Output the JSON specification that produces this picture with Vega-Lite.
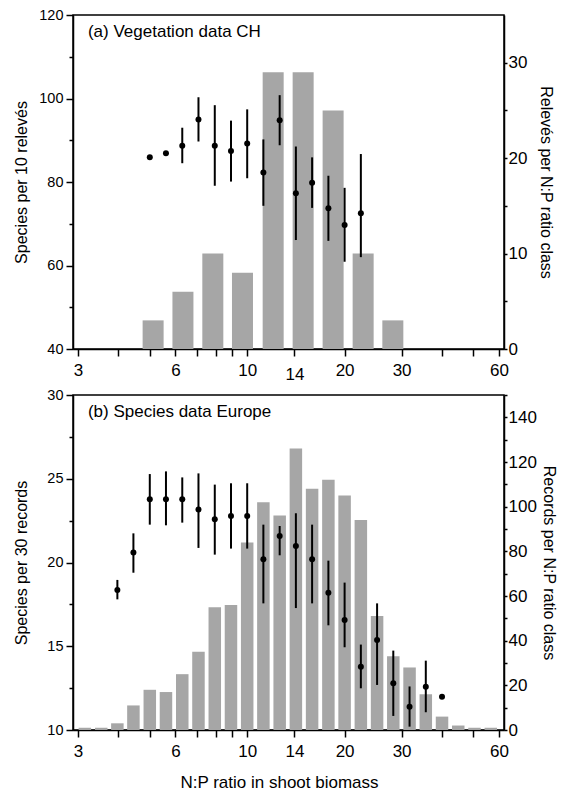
{
  "$schema": "https://vega.github.io/schema/vega-lite/v6.json",
  "background": "white",
  "padding": {"left": 13, "top": 6, "right": 0, "bottom": 0},
  "config": {
    "font": "Liberation Sans",
    "view": {"stroke": "black", "strokeWidth": 1.5},
    "axis": {"domainColor": "black", "domainWidth": 1.5, "tickColor": "black", "tickWidth": 1.5, "labelColor": "black", "titleColor": "black", "grid": false, "labelFont": "Liberation Sans", "titleFont": "Liberation Sans", "titleFontWeight": "normal", "labelOverlap": false, "labelFlush": false}
  },
  "datasets": {
    "barsA": [
      {"np": 5.12, "releves": 3}, {"np": 6.33, "releves": 6}, {"np": 7.83, "releves": 10}, {"np": 9.67, "releves": 8},
      {"np": 12.03, "releves": 29}, {"np": 14.89, "releves": 29}, {"np": 18.43, "releves": 25}, {"np": 22.82, "releves": 10}, {"np": 28.19, "releves": 3}
    ],
    "ptsA": [
      {"np": 5.0, "mean": 85.9, "lo": null, "hi": null},
      {"np": 5.61, "mean": 86.9, "lo": null, "hi": null},
      {"np": 6.3, "mean": 88.7, "lo": 84.5, "hi": 93.0},
      {"np": 7.07, "mean": 95.0, "lo": 89.7, "hi": 100.3},
      {"np": 7.94, "mean": 88.7, "lo": 79.1, "hi": 98.4},
      {"np": 8.91, "mean": 87.4, "lo": 80.1, "hi": 94.7},
      {"np": 10.0, "mean": 89.2, "lo": 80.9, "hi": 97.4},
      {"np": 11.22, "mean": 82.3, "lo": 74.3, "hi": 90.2},
      {"np": 12.6, "mean": 94.8, "lo": 88.8, "hi": 100.8},
      {"np": 14.14, "mean": 77.3, "lo": 66.1, "hi": 88.5},
      {"np": 15.87, "mean": 79.8, "lo": 73.8, "hi": 85.9},
      {"np": 17.82, "mean": 73.7, "lo": 65.9, "hi": 81.5},
      {"np": 20.0, "mean": 69.7, "lo": 60.9, "hi": 78.6},
      {"np": 22.45, "mean": 72.5, "lo": 62.0, "hi": 86.7}
    ],
    "barsB": [
      {"np": 3.15, "records": 1}, {"np": 3.54, "records": 1}, {"np": 3.97, "records": 3}, {"np": 4.45, "records": 11},
      {"np": 5.0, "records": 18}, {"np": 5.61, "records": 17}, {"np": 6.3, "records": 25}, {"np": 7.07, "records": 35},
      {"np": 7.94, "records": 55}, {"np": 8.91, "records": 56}, {"np": 10.0, "records": 84}, {"np": 11.22, "records": 102},
      {"np": 12.6, "records": 96}, {"np": 14.14, "records": 126}, {"np": 15.87, "records": 108}, {"np": 17.82, "records": 112},
      {"np": 20.0, "records": 105}, {"np": 22.45, "records": 94}, {"np": 25.2, "records": 51}, {"np": 28.28, "records": 33},
      {"np": 31.75, "records": 28}, {"np": 35.64, "records": 16}, {"np": 40.0, "records": 6}, {"np": 44.9, "records": 2},
      {"np": 50.4, "records": 1}, {"np": 56.6, "records": 1}
    ],
    "ptsB": [
      {"np": 3.97, "mean": 18.36, "lo": 17.8, "hi": 18.96},
      {"np": 4.45, "mean": 20.59, "lo": 19.39, "hi": 21.74},
      {"np": 5.0, "mean": 23.77, "lo": 22.26, "hi": 25.28},
      {"np": 5.61, "mean": 23.77, "lo": 22.22, "hi": 25.44},
      {"np": 6.3, "mean": 23.77, "lo": 22.38, "hi": 25.08},
      {"np": 7.07, "mean": 23.17, "lo": 20.87, "hi": 25.32},
      {"np": 7.94, "mean": 22.58, "lo": 20.47, "hi": 24.65},
      {"np": 8.91, "mean": 22.78, "lo": 20.83, "hi": 24.73},
      {"np": 10.0, "mean": 22.78, "lo": 20.83, "hi": 24.73},
      {"np": 11.22, "mean": 20.19, "lo": 17.56, "hi": 22.26},
      {"np": 12.6, "mean": 21.58, "lo": 20.43, "hi": 22.18},
      {"np": 14.14, "mean": 20.99, "lo": 17.28, "hi": 22.94},
      {"np": 15.87, "mean": 20.19, "lo": 17.56, "hi": 22.26},
      {"np": 17.82, "mean": 18.2, "lo": 16.25, "hi": 20.11},
      {"np": 20.0, "mean": 16.57, "lo": 14.94, "hi": 18.8},
      {"np": 22.45, "mean": 13.78, "lo": 12.49, "hi": 15.1},
      {"np": 25.2, "mean": 15.37, "lo": 12.69, "hi": 17.56},
      {"np": 28.28, "mean": 12.79, "lo": 10.84, "hi": 14.74},
      {"np": 31.75, "mean": 11.39, "lo": 10.2, "hi": 12.6},
      {"np": 35.64, "mean": 12.58, "lo": 11.06, "hi": 14.14},
      {"np": 40.0, "mean": 11.99, "lo": null, "hi": null}
    ]
  },
  "spacing": 2,
  "vconcat": [
    {
      "width": 431,
      "height": 334,
      "layer": [
        {
          "data": {"name": "barsA"},
          "mark": {"type": "bar", "color": "#a6a6a6", "size": 21},
          "encoding": {
            "x": {"field": "np", "type": "quantitative", "scale": {"type": "log", "domain": [3, 60], "nice": false},
              "axis": {"title": null, "values": [3, 4, 5, 6, 7, 8, 9, 10, 14, 20, 30, 40, 50, 60], "labelExpr": "indexof([3, 6, 10, 14, 20, 30, 60], datum.value) >= 0 ? '' + datum.value : ''", "tickSize": 7, "labelPadding": {"condition": {"test": "datum.value === 14", "value": 10}, "value": 6}, "labelFontSize": 17}},
            "y": {"field": "releves", "type": "quantitative", "scale": {"domain": [0, 35], "nice": false},
              "axis": {"orient": "right", "title": "Relevés per N:P ratio class", "values": [0, 5, 10, 15, 20, 25, 30], "labelExpr": "datum.value % 10 === 0 ? '' + datum.value : ''", "tickSize": 3, "labelPadding": 1, "labelFontSize": 17, "titleFontSize": 16, "titlePadding": 11}}
          }
        },
        {
          "layer": [
            {
              "data": {"name": "ptsA"},
              "mark": {"type": "rule", "color": "black", "strokeWidth": 2},
              "encoding": {
                "x": {"field": "np", "type": "quantitative"},
                "y": {"field": "lo", "type": "quantitative", "scale": {"domain": [40, 120], "nice": false},
                  "axis": {"orient": "left", "title": "Species per 10 relevés", "values": [40, 50, 60, 70, 80, 90, 100, 110, 120], "labelExpr": "datum.value % 20 === 0 ? '' + datum.value : ''", "tickSize": {"condition": {"test": "datum.value % 20 === 0", "value": 7}, "value": 4}, "labelPadding": 3, "labelFontSize": 14.5, "titleFontSize": 16, "titlePadding": 9}},
                "y2": {"field": "hi"}
              }
            },
            {
              "data": {"name": "ptsA"},
              "mark": {"type": "point", "filled": true, "color": "black", "opacity": 1, "size": 36},
              "encoding": {
                "x": {"field": "np", "type": "quantitative"},
                "y": {"field": "mean", "type": "quantitative", "axis": {"title": "Species per 10 relevés"}}
              }
            },
            {
              "data": {"values": [{"label": "(a) Vegetation data CH"}]},
              "mark": {"type": "text", "align": "left", "baseline": "middle", "fontSize": 17, "color": "black"},
              "encoding": {
                "x": {"datum": 3.22},
                "y": {"datum": 115.9},
                "text": {"field": "label"}
              }
            }
          ]
        }
      ],
      "resolve": {"scale": {"y": "independent"}}
    },
    {
      "width": 431,
      "height": 335,
      "layer": [
        {
          "data": {"name": "barsB"},
          "mark": {"type": "bar", "color": "#a6a6a6", "size": 12.5},
          "encoding": {
            "x": {"field": "np", "type": "quantitative", "scale": {"type": "log", "domain": [3, 60], "nice": false},
              "axis": {"title": "N:P ratio in shoot biomass", "titleFontSize": 17, "titlePadding": 15, "titleX": 206, "values": [3, 4, 5, 6, 7, 8, 9, 10, 14, 20, 30, 40, 50, 60], "labelExpr": "indexof([3, 6, 10, 14, 20, 30, 60], datum.value) >= 0 ? '' + datum.value : ''", "tickSize": 7, "labelPadding": 6, "labelFontSize": 17}},
            "y": {"field": "records", "type": "quantitative", "scale": {"domain": [0, 150], "nice": false},
              "axis": {"orient": "right", "title": "Records per N:P ratio class", "values": [0, 10, 20, 30, 40, 50, 60, 70, 80, 90, 100, 110, 120, 130, 140, 150], "labelExpr": "datum.value % 20 === 0 ? '' + datum.value : ''", "tickSize": 3, "labelPadding": 1, "labelFontSize": 17, "titleFontSize": 16, "titlePadding": 4}}
          }
        },
        {
          "layer": [
            {
              "data": {"name": "ptsB"},
              "mark": {"type": "rule", "color": "black", "strokeWidth": 2},
              "encoding": {
                "x": {"field": "np", "type": "quantitative"},
                "y": {"field": "lo", "type": "quantitative", "scale": {"domain": [10, 30], "nice": false},
                  "axis": {"orient": "left", "title": "Species per 30 records", "values": [10, 12.5, 15, 17.5, 20, 22.5, 25, 27.5, 30], "labelExpr": "datum.value % 5 === 0 ? '' + datum.value : ''", "tickSize": {"condition": {"test": "datum.value % 5 === 0", "value": 7}, "value": 4}, "labelPadding": 3, "labelFontSize": 14.5, "titleFontSize": 16, "titlePadding": 17}},
                "y2": {"field": "hi"}
              }
            },
            {
              "data": {"name": "ptsB"},
              "mark": {"type": "point", "filled": true, "color": "black", "opacity": 1, "size": 36},
              "encoding": {
                "x": {"field": "np", "type": "quantitative"},
                "y": {"field": "mean", "type": "quantitative", "axis": {"title": "Species per 30 records"}}
              }
            },
            {
              "data": {"values": [{"label": "(b) Species data Europe"}]},
              "mark": {"type": "text", "align": "left", "baseline": "middle", "fontSize": 17, "color": "black"},
              "encoding": {
                "x": {"datum": 3.22},
                "y": {"datum": 29.0},
                "text": {"field": "label"}
              }
            }
          ]
        }
      ],
      "resolve": {"scale": {"y": "independent"}}
    }
  ]
}
